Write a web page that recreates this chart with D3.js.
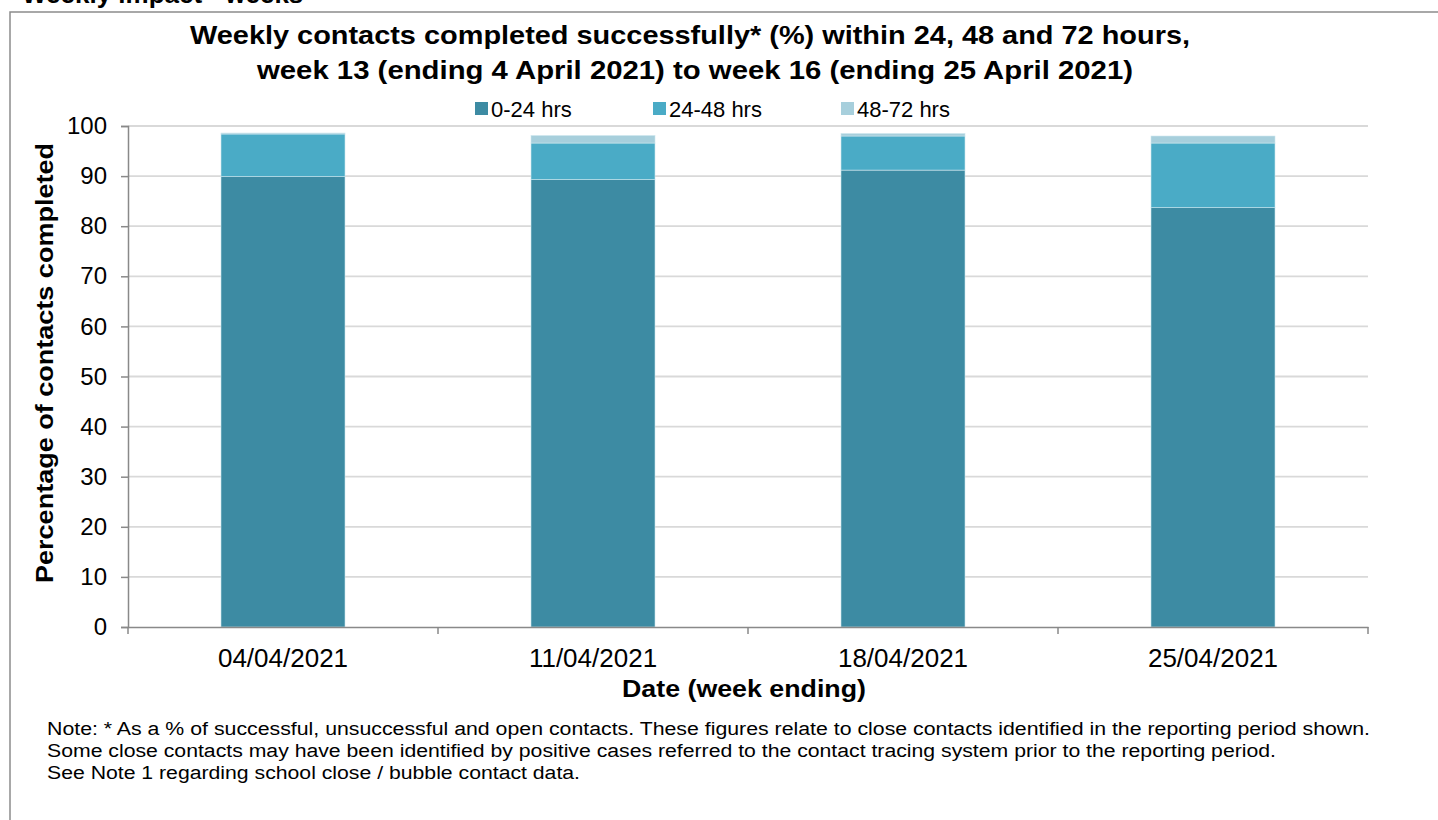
<!DOCTYPE html>
<html>
<head>
<meta charset="utf-8">
<script src="https://cdn.jsdelivr.net/npm/d3@7"></script>
<style>
  body { margin: 0; background: #fff; }
  text { font-family: "Liberation Sans", Arial, sans-serif; fill: #000; }
</style>
</head>
<body>
<script>
// Data
var weeks = ["04/04/2021", "11/04/2021", "18/04/2021", "25/04/2021"];
var seriesNames = ["0-24 hrs", "24-48 hrs", "48-72 hrs"];
var hrs0to24 = [89.9, 89.3, 91.2, 83.7];
var hrs24to48 = [8.5, 7.3, 6.8, 12.9];
var hrs48to72 = [0.2, 1.5, 0.5, 1.4];
var yTicks = [0, 10, 20, 30, 40, 50, 60, 70, 80, 90, 100];
var colours = ["#3d8ba3", "#4aabc6", "#a7cfdc"];
var notes = [
    "Note: * As a % of successful, unsuccessful and open contacts. These figures relate to close contacts identified in the reporting period shown.",
    "Some close contacts may have been identified by positive cases referred to the contact tracing system prior to the reporting period.",
    "See Note 1 regarding school close / bubble contact data."
];
var noteWidths = [1323, 1229, 533];

var svg = d3.select("body").append("svg").attr("width", 1438).attr("height", 820);

// heading above the frame, cut off by the page top
svg.append("text").text("Weekly impact - weeks")
    .attr("x", 22).attr("y", 3)
    .style("font-size", "26px").style("font-weight", "bold");

// frame
svg.append("path").attr("d", "M10,830 V12 H1450")
    .attr("fill", "none").attr("stroke", "#8c8c8c").attr("stroke-width", 1.5);

// title
svg.append("text").text("Weekly contacts completed successfully* (%) within 24, 48 and 72 hours,")
    .attr("x", 190).attr("y", 44)
    .attr("textLength", 1000).attr("lengthAdjust", "spacingAndGlyphs")
    .style("font-size", "25px").style("font-weight", "bold");
svg.append("text").text("week 13 (ending 4 April 2021) to week 16 (ending 25 April 2021)")
    .attr("x", 257).attr("y", 79)
    .attr("textLength", 876).attr("lengthAdjust", "spacingAndGlyphs")
    .style("font-size", "25px").style("font-weight", "bold");

// scales
var x = d3.scaleBand().domain(weeks).range([128, 1368]).padding(0);
var y = d3.scaleLinear().domain([0, 100]).range([627, 126]);

// gridlines
svg.append("g").selectAll("line").data(yTicks.slice(1)).enter().append("line")
    .attr("x1", 128).attr("x2", 1368)
    .attr("y1", function(d) { return y(d); }).attr("y2", function(d) { return y(d); })
    .attr("stroke", "#d9d9d9").attr("stroke-width", 1.8);

// stacked bars
var rows = weeks.map(function(w, i) {
    return { week: w, "0-24 hrs": hrs0to24[i], "24-48 hrs": hrs24to48[i], "48-72 hrs": hrs48to72[i] };
});
var stacked = d3.stack().keys(seriesNames)(rows);
var barW = x.bandwidth() * 0.4;

svg.append("g").selectAll("g").data(stacked).enter().append("g")
    .attr("fill", function(d, i) { return colours[i]; })
    .selectAll("rect").data(function(d) { return d; }).enter().append("rect")
    .attr("x", function(d) { return x(d.data.week) + (x.bandwidth() - barW) / 2; })
    .attr("y", function(d) { return y(d[1]); })
    .attr("width", barW)
    .attr("height", function(d) { return y(d[0]) - y(d[1]); })
    .attr("stroke", "#cde6ee").attr("stroke-width", 0.6);

// y axis
var yAxis = svg.append("g").attr("transform", "translate(128,0)")
    .call(d3.axisLeft(y).tickValues(yTicks).tickSize(7).tickPadding(14));
yAxis.select(".domain").attr("stroke", "#898989").attr("stroke-width", 1.5);
yAxis.selectAll(".tick line").attr("stroke", "#898989").attr("stroke-width", 1.5);
yAxis.selectAll(".tick text").style("font-size", "24px").style("font-family", "Liberation Sans, Arial, sans-serif").attr("fill", "#000");

// x axis
var xAxis = svg.append("g").attr("transform", "translate(0,627)")
    .call(d3.axisBottom(x).tickSize(0).tickPadding(22));
xAxis.select(".domain").attr("stroke", "#898989").attr("stroke-width", 1.5);
xAxis.selectAll(".tick text").style("font-size", "26px").style("font-family", "Liberation Sans, Arial, sans-serif").attr("fill", "#000");
// category separator ticks
var edges = weeks.map(function(w) { return x(w); }).concat([x.range()[1]]);
xAxis.selectAll(".sep").data(edges).enter().append("line")
    .attr("x1", function(d) { return d; }).attr("x2", function(d) { return d; })
    .attr("y1", 0).attr("y2", 7)
    .attr("stroke", "#898989").attr("stroke-width", 1.5);

// axis titles
svg.append("text").text("Date (week ending)")
    .attr("x", 622).attr("y", 697)
    .attr("textLength", 244).attr("lengthAdjust", "spacingAndGlyphs")
    .style("font-size", "24px").style("font-weight", "bold");
svg.append("text").text("Percentage of contacts completed")
    .attr("transform", "translate(53,583) rotate(-90)")
    .attr("textLength", 440).attr("lengthAdjust", "spacingAndGlyphs")
    .style("font-size", "24px").style("font-weight", "bold");

// legend
var legendX = [475, 653, 841];
var legend = svg.append("g").selectAll("g").data(seriesNames).enter().append("g")
    .attr("transform", function(d, i) { return "translate(" + legendX[i] + ",102)"; });
legend.append("rect").attr("width", 13).attr("height", 13)
    .attr("fill", function(d, i) { return colours[i]; });
legend.append("text").text(function(d) { return d; })
    .attr("x", 16).attr("y", 15).style("font-size", "22px");

// notes
svg.append("g").selectAll("text").data(notes).enter().append("text")
    .text(function(d) { return d; })
    .attr("x", 47).attr("y", function(d, i) { return 735 + i * 22; })
    .attr("textLength", function(d, i) { return noteWidths[i]; })
    .attr("lengthAdjust", "spacingAndGlyphs")
    .style("font-size", "18px");
</script>
</body>
</html>
